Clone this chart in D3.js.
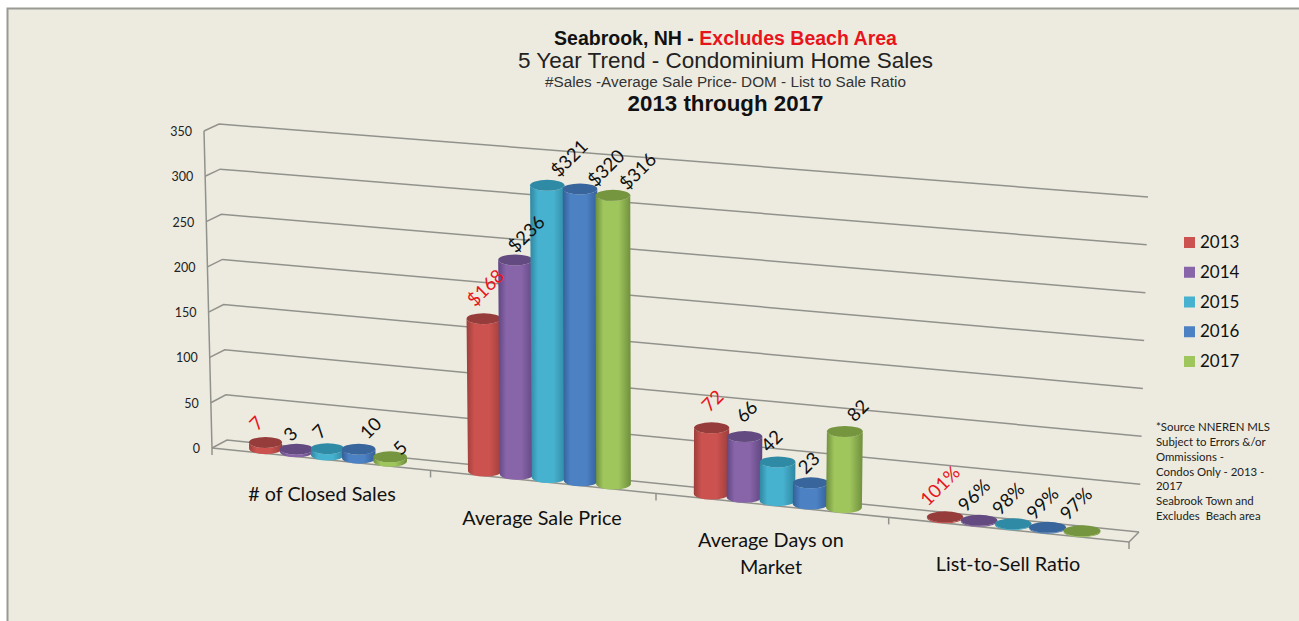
<!DOCTYPE html>
<html>
<head>
<meta charset="utf-8">
<script src="https://cdn.jsdelivr.net/npm/d3@7"></script>
<style>
  html, body { margin: 0; padding: 0; background: #fff; }
  svg { display: block; }
</style>
</head>
<body>
<svg id="chart"></svg>
<script>
const categories = [["# of Closed Sales"], ["Average Sale Price"], ["Average Days on", "Market"], ["List-to-Sell Ratio"]];
const years = ["2013", "2014", "2015", "2016", "2017"];
const closedSales = [7, 3, 7, 10, 5];
const salePrice = [168, 236, 321, 320, 316];
const daysOnMarket = [72, 66, 42, 23, 82];
const listToSell = [1.01, 0.96, 0.98, 0.99, 0.97];
const yTicks = [0, 50, 100, 150, 200, 250, 300, 350];
const footnote = ["*Source NNEREN MLS", "Subject to Errors &/or", "Ommissions -", "Condos Only - 2013 -", "2017", "Seabrook Town and", "Excludes  Beach area"];

const seriesByCategory = [closedSales, salePrice, daysOnMarket, listToSell];
const labelFormats = [d3.format("d"), d => "$" + d, d3.format("d"), d3.format(".0%")];

// fill, dark edge / top for each year
const colors = ["#cb524f", "#8864a9", "#47b2d0", "#4c82c4", "#9fc55d"];
const tops = ["#963c3a", "#634a80", "#2f8aa5", "#38659c", "#76953f"];
const edges = ["#9c3e3b", "#5f4680", "#2f87a0", "#335f98", "#6f8f3c"];

// hand nudges for the value labels, the chart had them dragged around
const labelNudge = [
  [[-9, -19], [-6, -15], [-8, -17], [12, -21], [10, -9]],
  [[2, -31], [11, -26], [22, -27], [26, -21], [25, -24]],
  [[1, -27], [2, -25], [-6, -21], [-2, -20], [13, -21]],
  [[-5, -31], [-5, -25], [-5, -25], [-5, -24], [-6, -27]]
];

const width = 1299;
const height = 621;

// box corners of the 3d plot, [x, y] at value 0 and value 350
const frontLeft = [[212, 448], [204, 131]];
const frontRight = [[1129, 542], [1138, 207]];
const backLeft = [[227, 440], [219, 124]];
const backRight = [[1139, 532], [1148, 197]];

const value = d3.scaleLinear().domain([0, 350]).range([0, 1]);
// cylinders stand in the middle of the floor so they read a bit shorter than the wall
const barValue = d3.scaleLinear().domain([0, 350]).range([0, 345]);
// foreshortening along the long side of the floor
const persp = -0.01533;
const along = d3.scaleLinear().domain([0, 4 / (1 + 4 * persp)]).range([0, 1]);
const yearBand = d3.scaleBand().domain(years).range([0, 1]).paddingInner(0).paddingOuter(1);

function project(t, v, depth) {
  const s = along(t / (1 + persp * t));
  const k = value(v);
  const mix = i => {
    const f = d3.interpolate(d3.interpolate(frontLeft[0][i], frontRight[0][i])(s), d3.interpolate(frontLeft[1][i], frontRight[1][i])(s))(k);
    const b = d3.interpolate(d3.interpolate(backLeft[0][i], backRight[0][i])(s), d3.interpolate(backLeft[1][i], backRight[1][i])(s))(k);
    return f + (b - f) * depth;
  };
  return [mix(0), mix(1)];
}

const svg = d3.select("#chart").attr("width", width).attr("height", height);
const defs = svg.append("defs");

years.forEach((y, i) => {
  const g = defs.append("linearGradient").attr("id", "cyl" + i);
  g.append("stop").attr("offset", "0%").attr("stop-color", edges[i]);
  g.append("stop").attr("offset", "22%").attr("stop-color", colors[i]);
  g.append("stop").attr("offset", "65%").attr("stop-color", colors[i]);
  g.append("stop").attr("offset", "100%").attr("stop-color", edges[i]);
});

// page and plot background
svg.append("rect").attr("width", width).attr("height", height).attr("fill", "#fff");
svg.append("rect").attr("x", 7.5).attr("y", 8.5).attr("width", width).attr("height", height)
  .attr("fill", "#edebe0").attr("stroke", "#9a9a94").attr("stroke-width", 2);

// gridlines on the back wall
const gridColor = "#92928c";
const grid = svg.append("g").attr("fill", "none").attr("stroke", gridColor).attr("stroke-width", 1.5);
const line = d3.line();
yTicks.forEach(v => {
  grid.append("path").attr("d", line([project(0, v, 0), project(0, v, 1), project(4, v, 1)]));
});
grid.append("path").attr("d", line([project(0, 0, 0), project(0, 350, 0)]));
grid.append("path").attr("d", line([project(0, 0, 0), project(4, 0, 0), project(4, 0, 1)]));
d3.range(0, 5).forEach(t => {
  const p = project(t, 0, 0);
  grid.append("path").attr("d", line([p, [p[0], p[1] + 7]]));
});

// y axis labels
svg.append("g").selectAll("text").data(yTicks).join("text")
  .attr("x", d => project(0, d, 0)[0] - 12)
  .attr("y", d => project(0, d, 0)[1] + 5)
  .attr("text-anchor", "end")
  .attr("font-family", "Lato")
  .attr("font-size", 12.5)
  .attr("fill", "#222")
  .text(d => d);

function cylinderSide(base, top, rx, ry) {
  return `M${top[0] - rx},${top[1]} L${base[0] - rx},${base[1]} A${rx},${ry} 0 0 0 ${base[0] + rx},${base[1]} L${top[0] + rx},${top[1]} A${rx},${ry} 0 0 1 ${top[0] - rx},${top[1]} Z`;
}

// cylinders, left to right so neighbours overlap as in the picture
const bars = svg.append("g");
const labels = svg.append("g");
categories.forEach((cat, c) => {
  seriesByCategory[c].forEach((v, i) => {
    const t = c + yearBand(years[i]) + yearBand.bandwidth() / 2;
    const base = project(t, 0, 0.5);
    const top = project(t, barValue(v), 0.5);
    const rx = (project(t + yearBand.bandwidth() / 2, 0, 0.5)[0] - base[0]) * 1.07;
    const ry = 5.5;
    bars.append("path").attr("d", cylinderSide(base, top, rx, ry)).attr("fill", `url(#cyl${i})`);
    bars.append("ellipse").attr("cx", top[0]).attr("cy", top[1]).attr("rx", rx).attr("ry", ry).attr("fill", tops[i]);
    labels.append("text")
      .attr("transform", `translate(${top[0] + labelNudge[c][i][0]},${top[1] + labelNudge[c][i][1]}) rotate(-45)`)
      .attr("text-anchor", "middle")
      .attr("dy", "0.35em")
      .attr("font-family", "Lato")
      .attr("font-size", 18.5)
      .attr("fill", i === 0 ? "#e8141c" : "#111")
      .text(labelFormats[c](v));
  });
});

// category labels
const catLabelPos = [[322, 501], [542, 525], [771, 547], [1008, 571]];
categories.forEach((cat, c) => {
  const t = svg.append("text")
    .attr("text-anchor", "middle")
    .attr("font-family", "Lato")
    .attr("font-size", 19.8)
    .attr("fill", "#111");
  cat.forEach((s, j) => {
    t.append("tspan").attr("x", catLabelPos[c][0]).attr("y", catLabelPos[c][1] + j * 27).text(s);
  });
});

// legend
const legendY = d3.scalePoint().domain(years).range([242, 361]);
const legend = svg.append("g").selectAll("g").data(years).join("g")
  .attr("transform", d => `translate(1184,${legendY(d)})`);
legend.append("rect").attr("x", 0).attr("y", -5).attr("width", 11).attr("height", 11)
  .attr("fill", (d, i) => colors[i]);
legend.append("text").attr("x", 16).attr("y", 6)
  .attr("font-family", "Lato").attr("font-size", 17).attr("fill", "#111").text(d => d);

// footnote
svg.append("g").selectAll("text").data(footnote).join("text")
  .attr("x", 1156)
  .attr("y", (d, i) => 431 + i * 14.85)
  .attr("font-family", "Lato")
  .attr("font-size", 11.4)
  .attr("fill", "#222")
  .attr("xml:space", "preserve")
  .text(d => d);

// titles
const titleX = 725.5;
const title1 = svg.append("text").attr("x", titleX).attr("y", 45).attr("text-anchor", "middle")
  .attr("font-family", "Liberation Sans").attr("font-size", 19.5).attr("font-weight", "bold");
title1.append("tspan").attr("fill", "#111").text("Seabrook, NH - ");
title1.append("tspan").attr("fill", "#e8141c").text("Excludes Beach Area");
svg.append("text").attr("x", titleX).attr("y", 68).attr("text-anchor", "middle")
  .attr("font-family", "Liberation Sans").attr("font-size", 22.5).attr("fill", "#222")
  .text("5 Year Trend - Condominium Home Sales");
svg.append("text").attr("x", titleX).attr("y", 87).attr("text-anchor", "middle")
  .attr("font-family", "Liberation Sans").attr("font-size", 15.3).attr("fill", "#333")
  .text("#Sales -Average Sale Price- DOM - List to Sale Ratio");
svg.append("text").attr("x", titleX).attr("y", 111).attr("text-anchor", "middle")
  .attr("font-family", "Liberation Sans").attr("font-size", 22.3).attr("font-weight", "bold").attr("fill", "#111")
  .text("2013 through 2017");
</script>
</body>
</html>
